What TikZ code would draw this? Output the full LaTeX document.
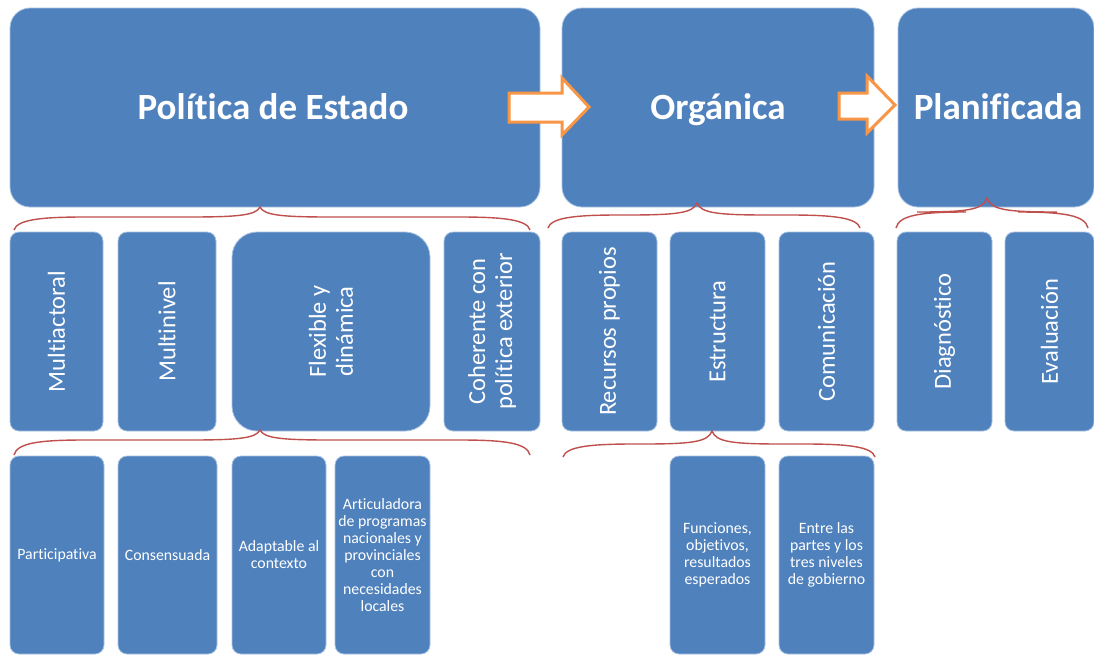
\documentclass[tikz,border=0pt]{standalone}
\usepackage{fontspec}
\setmainfont{Carlito}[Ligatures=NoCommon]
\definecolor{boxblue}{HTML}{4F81BD}
\definecolor{boxedge}{HTML}{A9C2E2}
\definecolor{bracered}{HTML}{C0504D}
\definecolor{arroworange}{HTML}{F79646}
\newcommand\curlyb[6]{% x1 x2 xtip ytip yend yflat
  \draw[brace] (#1,#5) .. controls (#1+3,#6+3) and (#1+25,#6) .. (#1+70,#6)
    -- (#3-70,#6) .. controls (#3-20,#6) and (#3-4,#6-2) .. (#3,#4)
    .. controls (#3+4,#6-2) and (#3+20,#6) .. (#3+70,#6)
    -- (#2-70,#6) .. controls (#2-25,#6) and (#2-3,#6+3) .. (#2,#5);}
\begin{document}
\begin{tikzpicture}[x=1pt,y=-1pt,
  base/.style={fill=boxblue, draw=boxedge, line width=0.8pt, inner sep=0pt},
  topbox/.style={base, rounded corners=20pt, minimum height=199pt},
  midbox/.style={base, rounded corners=9pt, minimum height=199pt},
  lowbox/.style={base, rounded corners=9pt, minimum height=198pt},
  toplab/.style={text=white, anchor=base, font=\fontsize{37}{40}\selectfont\bfseries},
  midlab/.style={text=white, rotate=90, align=center, font=\fontsize{24.5}{27}\selectfont},
  lowlab/.style={text=white, align=center, font=\fontsize{15.8}{17}\selectfont},
  brace/.style={draw=bracered, line width=1.4pt},
  blockarrow/.style={draw=arroworange, fill=white, line width=3pt, line join=miter}]
\fill[white] (0,0) rectangle (1094,654);
\useasboundingbox (0,0) rectangle (1094,654);

% top row
\node[topbox, minimum width=530pt] (pe) at (275,107.5) {};
\node[toplab] (pel) at (273,119) {Política de Estado};
\node[topbox, minimum width=312pt] (og) at (718,107.5) {};
\node[toplab] (ogl) at (718,119) {Orgánica};
\node[topbox, minimum width=196pt] (pl) at (996,107.5) {};
\node[toplab] (pll) at (998,119) {Planificada};

% middle row
\node[midbox, minimum width=93pt] (ma) at (56.5,331.5) {};
\node[midlab] (mal) at (ma) {Multiactoral};
\node[midbox, minimum width=98pt] (mn) at (167,331.5) {};
\node[midlab] (mnl) at (mn) {Multinivel};
\node[midbox, rounded corners=25pt, minimum width=198pt] (fd) at (331,331.5) {};
\node[midlab] (fdl) at (fd) {Flexible y\\dinámica};
\node[midbox, minimum width=96pt] (cp) at (492,331.5) {};
\node[midlab] (cpl) at (cp) {Coherente con\\política exterior};
\node[midbox, minimum width=95pt] (rp) at (609.5,331.5) {};
\node[midlab] (rpl) at (rp) {Recursos propios};
\node[midbox, minimum width=95pt] (es) at (717.5,331.5) {};
\node[midlab] (esl) at (es) {Estructura};
\node[midbox, minimum width=95pt] (co) at (826.5,331.5) {};
\node[midlab] (col) at (co) {Comunicación};
\node[midbox, minimum width=95pt] (di) at (944.5,331.5) {};
\node[midlab] (dil) at (di) {Diagnóstico};
\node[midbox, minimum width=89pt] (ev) at (1049.5,331.5) {};
\node[midlab] (evl) at (ev) {Evaluación};

% bottom row
\node[lowbox, minimum width=94pt] (pa) at (57,555) {};
\node[lowlab] (pal) at (pa) {Participativa};
\node[lowbox, minimum width=99pt] (cs) at (167.5,555) {};
\node[lowlab] (csl) at (cs) {Consensuada};
\node[lowbox, minimum width=94pt] (ad) at (279,555) {};
\node[lowlab] (adl) at (ad) {Adaptable al\\contexto};
\node[lowbox, minimum width=95pt] (ar) at (382.5,555) {};
\node[lowlab] (arl) at (ar) {Articuladora\\de programas\\nacionales y\\provinciales\\con\\necesidades\\locales};
\node[lowbox, minimum width=95pt] (fu) at (717.5,555) {};
\node[lowlab] (ful) at (fu) {Funciones,\\objetivos,\\resultados\\esperados};
\node[lowbox, minimum width=95pt] (en) at (826.5,555) {};
\node[lowlab] (enl) at (en) {Entre las\\partes y los\\tres niveles\\de gobierno};

% braces
\curlyb{14}{530}{260}{207}{230}{217}
\curlyb{548}{860}{697}{203}{228}{215}
\curlyb{896}{1088}{987}{198}{228}{212}
\curlyb{14}{530}{260}{430}{455}{440}
\curlyb{563}{875}{712}{431}{457}{444}

% block arrows
\draw[blockarrow] (509,93) -- (562,93) -- (562,78) -- (589,107) -- (562,135) -- (562,122) -- (509,122) -- cycle;
\draw[blockarrow] (839,93) -- (867,93) -- (867,76) -- (895,105) -- (867,133) -- (867,119) -- (839,119) -- cycle;
\end{tikzpicture}
\end{document}
